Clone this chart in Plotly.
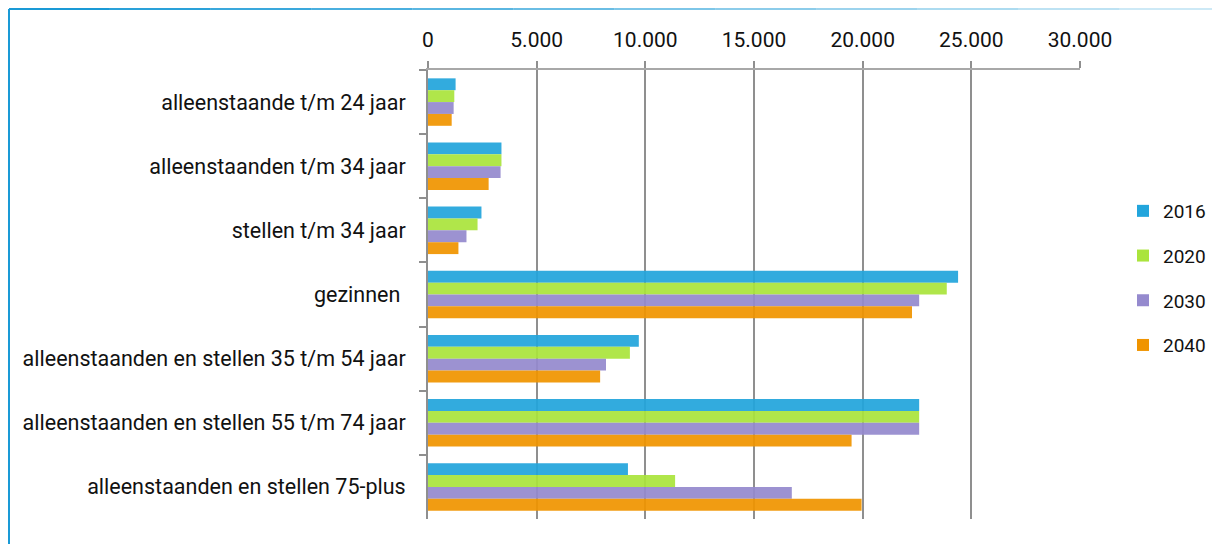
import plotly.graph_objects as go

# ── Data ──────────────────────────────────────────────────────────────────────
categories = [
    "alleenstaande t/m 24 jaar",
    "alleenstaanden t/m 34 jaar",
    "stellen t/m 34 jaar",
    "gezinnen ",
    "alleenstaanden en stellen 35 t/m 54 jaar",
    "alleenstaanden en stellen 55 t/m 74 jaar",
    "alleenstaanden en stellen 75-plus",
]
years = ["2016", "2020", "2030", "2040"]
values_2016 = [1270, 3380, 2460, 24390, 9700, 22600, 9200]
values_2020 = [1210, 3380, 2280, 23870, 9290, 22600, 11370]
values_2030 = [1180, 3340, 1770, 22600, 8190, 22600, 16740]
values_2040 = [1090, 2790, 1400, 22270, 7920, 19490, 19950]
x_ticks = [0, 5000, 10000, 15000, 20000, 25000, 30000]

series = [values_2016, values_2020, values_2030, values_2040]
colors = ["#22a5dc", "#aae43c", "#958ace", "#f09400"]

# ── Style ─────────────────────────────────────────────────────────────────────
_FONT = dict(family="Roboto, sans-serif", size=21, color="#111111")
_GRID = "#8f8f8f"
# page body has an 8px margin, so the figure is sized/positioned to compensate
W, H = 1212, 536
L, R, T, B = 420, 140, 62, 25
PW, PH = W - L - R, H - T - B

fig = go.Figure()
for year, vals, color in zip(years, series, colors):
    fig.add_trace(go.Bar(
        y=categories,
        x=vals,
        name=year,
        orientation="h",
        legendgroup=year,
        marker=dict(color=color, line=dict(width=0), opacity=0.93),
    ))

fig.update_layout(
    width=W,
    height=H,
    barmode="group",
    bargap=0.26,
    bargroupgap=0,
    separators=",.",
    font=_FONT,
    paper_bgcolor="white",
    plot_bgcolor="white",
    margin=dict(l=L, r=R, t=T, b=B, autoexpand=False),
    legend=dict(
        xref="container", yref="container",
        x=1115 / W, y=1 - 270 / H, xanchor="left", yanchor="middle",
        traceorder="grouped", tracegroupgap=17,
        itemwidth=30, font=dict(size=19),
    ),
    xaxis=dict(
        side="top",
        range=[0, 30000],
        tickvals=x_ticks,
        tickformat=",d",
        showgrid=True, gridcolor=_GRID, gridwidth=1.5,
        showline=True, linecolor="#a8a8a8", linewidth=2,
        ticks="outside", ticklen=7, tickcolor=_GRID, tickwidth=1.5,
        ticklabelstandoff=6,
        zeroline=False,
        automargin=False,
    ),
    yaxis=dict(
        autorange="reversed",
        showline=True, linecolor=_GRID, linewidth=2,
        ticks="outside", ticklen=7, tickcolor=_GRID, tickwidth=2,
        tickson="boundaries",
        ticklabelstandoff=16,
        showgrid=False,
        automargin=False,
        tickfont=dict(size=21.5),
    ),
)

# frame: blue left edge and a top edge that fades to the right
frame_x = (1 - L) / PW
frame_top = 1 + (T - 1) / PH
fig.add_shape(type="line", xref="paper", yref="paper",
              x0=frame_x, x1=frame_x, y0=frame_top, y1=-B / PH,
              line=dict(color="#1a9ad6", width=2))
n_seg = 12
x_end = 1 + R / PW
for i in range(n_seg):
    a = frame_x + (x_end - frame_x) * i / n_seg
    b = frame_x + (x_end - frame_x) * (i + 1) / n_seg
    fig.add_shape(type="line", xref="paper", yref="paper",
                  x0=a, x1=b, y0=frame_top, y1=frame_top,
                  line=dict(color=f"rgba(26,154,214,{1 - 0.85 * i / n_seg:.2f})", width=2))

fig.write_html("out.html")
